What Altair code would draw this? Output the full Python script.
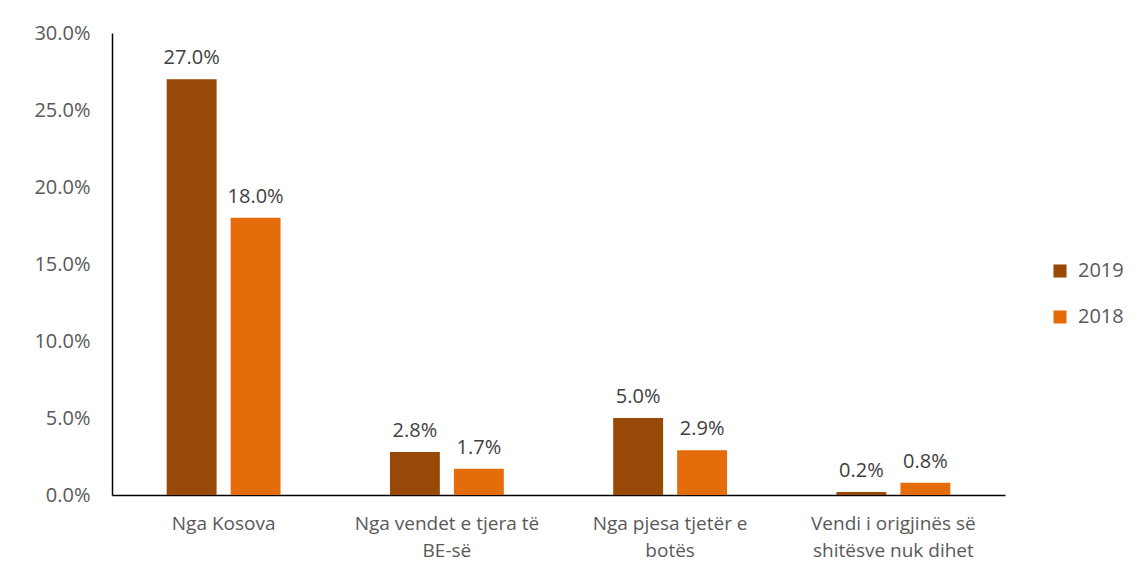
import altair as alt
import pandas as pd

categories = ["Nga Kosova", "Nga vendet e tjera të\nBE-së", "Nga pjesa tjetër e\nbotës", "Vendi i origjinës së\nshitësve nuk dihet"]
series = ["2019", "2018"]
values_2019 = [0.270, 0.028, 0.050, 0.002]
values_2018 = [0.180, 0.017, 0.029, 0.008]
colors = ["#984807", "#E46C0A"]
y_ticks = [0, 0.05, 0.10, 0.15, 0.20, 0.25, 0.30]

rows = []
for c, a, b in zip(categories, values_2019, values_2018):
    rows.append({"cat": c, "year": "2019", "v": a})
    rows.append({"cat": c, "year": "2018", "v": b})
df = pd.DataFrame(rows)

FONT = "Open Sans"

x = alt.X("cat:N", sort=categories, title=None,
          scale=alt.Scale(paddingInner=0.49, paddingOuter=0.245),
          axis=alt.Axis(labelAngle=0, labelExpr="split(datum.label, '\\n')",
                        labelFontSize=19, labelColor="#595959", labelFont=FONT,
                        labelBaseline="top", labelPadding=19, labelLineHeight=27,
                        ticks=False, domainColor="#000000", domainWidth=1.5,
                        labelLimit=300))
xo = alt.XOffset("year:N", sort=series, scale=alt.Scale(paddingInner=0.22, paddingOuter=0))
y = alt.Y("v:Q", title=None,
          scale=alt.Scale(domain=[0, 0.30], nice=False),
          axis=alt.Axis(values=y_ticks, format=".1%", grid=False, ticks=False,
                        labelFontSize=20, labelColor="#595959", labelFont=FONT,
                        labelPadding=22, domainColor="#000000", domainWidth=1.5))
color = alt.Color("year:N", sort=series, title=None,
                  scale=alt.Scale(domain=series, range=colors),
                  legend=alt.Legend(orient="none", legendX=938, legendY=228,
                                    symbolType="square", symbolSize=170,
                                    symbolStrokeWidth=0, labelFontSize=20,
                                    labelFont=FONT, labelColor="#595959",
                                    rowPadding=26, labelOffset=8))

bars = alt.Chart(df).mark_bar().encode(x=x, xOffset=xo, y=y, color=color)
labels = alt.Chart(df).mark_text(baseline="alphabetic", dy=-15, fontSize=20,
                                 font=FONT, color="#404040").encode(
    x=alt.X("cat:N", sort=categories), xOffset=xo, y="v:Q",
    text=alt.Text("v:Q", format=".1%"))

chart = (bars + labels).properties(
    width=893, height=462,
    autosize=alt.AutoSizeParams(type="none"),
    padding={"left": 104, "top": 25, "right": 120, "bottom": 80},
).configure_view(stroke=None, strokeWidth=0)

chart.save("out.html", embed_options={"renderer": "svg", "actions": False})
